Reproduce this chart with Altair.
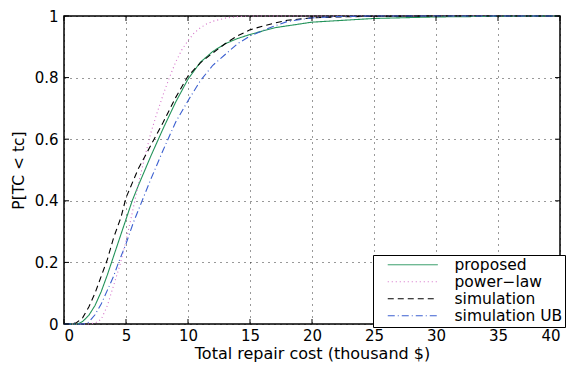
import altair as alt
import pandas as pd

series_names = ["proposed", "power−law", "simulation", "simulation UB"]

proposed_x = [0, 1, 1.2, 1.5, 2, 2.5, 3, 3.5, 4, 4.5, 5, 5.5, 6, 7, 8, 9, 10, 11, 12, 13, 14, 15, 17, 20, 25, 30, 35, 40]
proposed_p = [0, 0, 0.002, 0.008, 0.028, 0.06, 0.105, 0.16, 0.22, 0.28, 0.34, 0.4, 0.45, 0.545, 0.635, 0.72, 0.795, 0.85, 0.885, 0.91, 0.927, 0.94, 0.962, 0.98, 0.992, 0.997, 0.999, 1.0]

powerlaw_x = [0, 2, 2.5, 3, 3.5, 4, 4.5, 5, 5.5, 6, 6.5, 7, 7.5, 8, 8.5, 9, 9.5, 10, 10.5, 11, 11.5, 12, 13, 14, 15, 40]
powerlaw_p = [0, 0, 0.003, 0.015, 0.06, 0.125, 0.19, 0.27, 0.36, 0.455, 0.54, 0.62, 0.685, 0.745, 0.8, 0.85, 0.89, 0.92, 0.945, 0.962, 0.974, 0.983, 0.993, 0.998, 1.0, 1.0]

simulation_x = [0, 0.5, 1, 1.5, 2, 2.5, 3, 3.5, 4, 4.6, 5, 6, 7, 8, 9, 10, 11, 12, 13, 14, 15, 16, 17, 18, 20, 22, 25, 30, 40]
simulation_p = [0, 0, 0.004, 0.02, 0.055, 0.1, 0.155, 0.21, 0.28, 0.347, 0.41, 0.505, 0.58, 0.655, 0.735, 0.805, 0.848, 0.88, 0.91, 0.936, 0.955, 0.967, 0.977, 0.986, 0.994, 0.997, 0.999, 1.0, 1.0]

simub_x = [0, 1.5, 1.8, 2, 2.5, 3, 3.5, 4, 4.4, 5, 5.6, 6.2, 7, 8, 9, 10, 11, 12, 13, 14, 15, 16, 17, 18, 20, 22, 25, 40]
simub_p = [0, 0, 0.002, 0.006, 0.03, 0.065, 0.11, 0.155, 0.2, 0.26, 0.33, 0.39, 0.47, 0.565, 0.655, 0.725, 0.79, 0.84, 0.875, 0.91, 0.935, 0.952, 0.968, 0.982, 0.994, 0.998, 1.0, 1.0]

x_ticks = [0, 5, 10, 15, 20, 25, 30, 35, 40]
y_ticks = [0, 0.2, 0.4, 0.6, 0.8, 1]

colors = ["#23935a", "#d46fc8", "#000000", "#3b5fd0"]
dashes = [[1, 0], [1, 3], [6, 4], [7, 3, 1, 3]]

rows = []
for name, xs, ps in [(series_names[0], proposed_x, proposed_p),
                     (series_names[1], powerlaw_x, powerlaw_p),
                     (series_names[2], simulation_x, simulation_p),
                     (series_names[3], simub_x, simub_p)]:
    for x, p in zip(xs, ps):
        rows.append({"series": name, "cost": x, "p": p})
df = pd.DataFrame(rows)

W, H = 496, 308
FONT = "DejaVu Sans"

xaxis = alt.Axis(values=x_ticks, format="~g", title="Total repair cost (thousand $)",
                 domain=False, ticks=False, labelPadding=4, labelFont=FONT, labelFontSize=15,
                 labelColor="black", titleFont=FONT, titleFontSize=16, titleFontWeight="normal",
                 titleColor="black", titlePadding=2, grid=True, gridColor="black",
                 gridDash=[1, 5], gridOpacity=0.8)
yaxis = alt.Axis(values=y_ticks, format="~g", title="P[TC < tc]",
                 domain=False, ticks=False, labelPadding=6, labelFont=FONT, labelFontSize=15,
                 labelColor="black", titleFont=FONT, titleFontSize=15.5, titleFontWeight="normal",
                 titleColor="black", titlePadding=8, grid=True, gridColor="black",
                 gridDash=[1, 5], gridOpacity=0.8)

legend = alt.Legend(title=None, orient="none", legendX=309, legendY=239,
                    symbolType="M5,0H55", symbolSize=4, symbolStrokeWidth=1,
                    labelFont=FONT, labelFontSize=15.5, labelColor="black",
                    strokeColor="black", fillColor="white", padding=2, rowPadding=-3.5,
                    labelOffset=64)

lines = alt.Chart(df).mark_line(strokeWidth=1.1).encode(
    x=alt.X("cost:Q", scale=alt.Scale(domain=[0, 40], nice=False), axis=xaxis),
    y=alt.Y("p:Q", scale=alt.Scale(domain=[0, 1], nice=False), axis=yaxis),
    color=alt.Color("series:N", scale=alt.Scale(domain=series_names, range=colors), legend=legend),
    strokeDash=alt.StrokeDash("series:N", scale=alt.Scale(domain=series_names, range=dashes), legend=legend),
)

xt = pd.DataFrame({"t": x_ticks})
yt = pd.DataFrame({"t": y_ticks})

tb = alt.Chart(xt).mark_rule(color="black", strokeWidth=1).encode(
    x="t:Q", y=alt.value(H), y2=alt.value(H - 5))
tt = alt.Chart(xt).mark_rule(color="black", strokeWidth=1).encode(
    x="t:Q", y=alt.value(0), y2=alt.value(5))
tl = alt.Chart(yt).mark_rule(color="black", strokeWidth=1).encode(
    y="t:Q", x=alt.value(0), x2=alt.value(5))
tr = alt.Chart(yt).mark_rule(color="black", strokeWidth=1).encode(
    y="t:Q", x=alt.value(W), x2=alt.value(W - 5))

chart = alt.layer(lines, tb, tt, tl, tr).properties(
    width=W, height=H,
    autosize=alt.AutoSizeParams(type="none"),
    padding={"left": 56, "top": 8, "right": 10, "bottom": 40},
    background="white",
).configure_view(stroke="black", strokeWidth=1.5)

chart.save("out.html", embed_options={"renderer": "svg", "actions": False})
